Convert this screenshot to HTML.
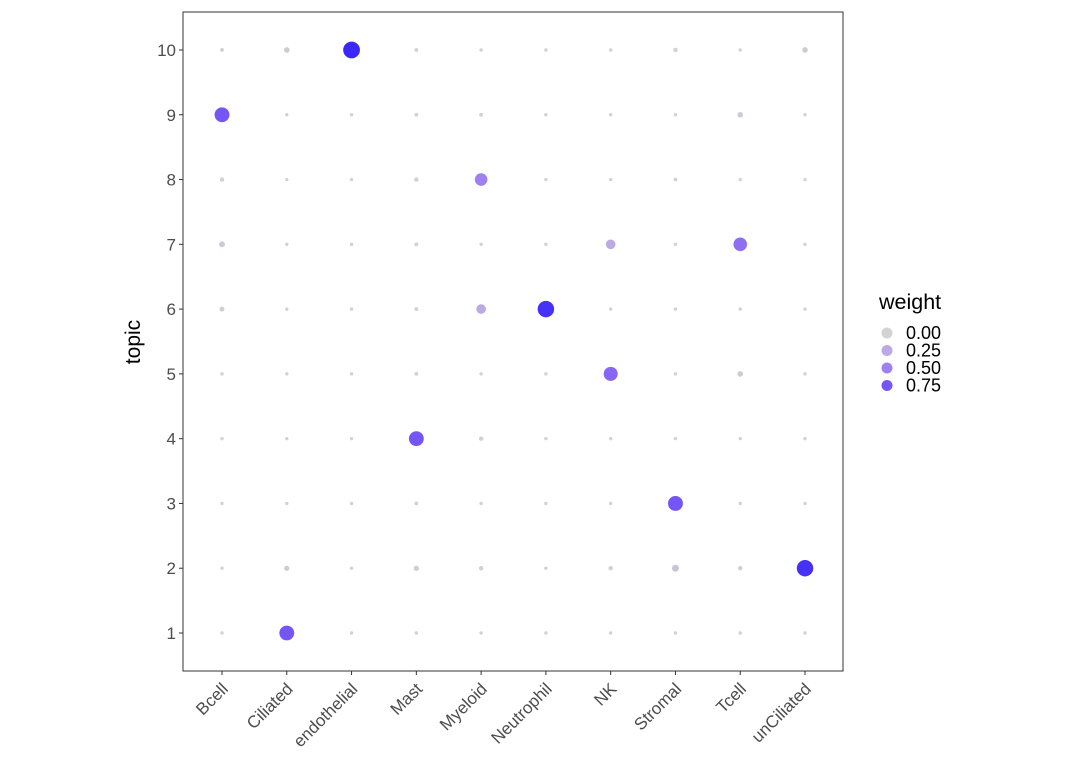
<!DOCTYPE html>
<html><head><meta charset="utf-8"><style>
body{margin:0;background:#fff;}
svg{font-family:"Liberation Sans",sans-serif;}
</style></head><body>
<svg id="chart" width="1080" height="771">
<rect x="183" y="12" width="660" height="659" fill="#fff" stroke="#333" stroke-width="1"/>
<g id="marks"></g>
<g id="xticks"></g>
<g id="yticks"></g>
<text x="140" y="342" font-size="21" text-anchor="middle" transform="rotate(-90 140 342)">topic</text>
<g>
<text x="879" y="309" font-size="21.5">weight</text>
<g id="legend"></g>
</g>
</svg>
<script>
const categories=["Bcell","Ciliated","endothelial","Mast","Myeloid","Neutrophil","NK","Stromal","Tcell","unCiliated"];
const topics=[1,2,3,4,5,6,7,8,9,10];
// weights per category, indexed by topic 1..10
const wBcell=[0.005,0.005,0.005,0.005,0.005,0.03,0.06,0.02,0.75,0.01];
const wCiliated=[0.75,0.04,0.005,0.005,0.005,0.005,0.005,0.005,0.005,0.05];
const wEndothelial=[0.005,0.005,0.005,0.005,0.005,0.005,0.005,0.005,0.005,1.0];
const wMast=[0.005,0.04,0.01,0.75,0.01,0.01,0.01,0.02,0.01,0.01];
const wMyeloid=[0.005,0.02,0.005,0.02,0.005,0.25,0.005,0.5,0.01,0.005];
const wNeutrophil=[0.005,0.005,0.005,0.005,0.005,0.95,0.005,0.005,0.005,0.005];
const wNK=[0.005,0.02,0.005,0.005,0.65,0.005,0.25,0.005,0.005,0.005];
const wStromal=[0.005,0.1,0.75,0.005,0.005,0.005,0.005,0.01,0.005,0.02];
const wTcell=[0.005,0.02,0.005,0.005,0.05,0.005,0.6,0.005,0.05,0.005];
const wUnCiliated=[0.005,0.95,0.005,0.005,0.005,0.005,0.005,0.005,0.005,0.05];
const weights=[wBcell,wCiliated,wEndothelial,wMast,wMyeloid,wNeutrophil,wNK,wStromal,wTcell,wUnCiliated];
const legendValues=[0,0.25,0.5,0.75];
const legendLabels=["0.00","0.25","0.50","0.75"];

const NS="http://www.w3.org/2000/svg";
const xPos=i=>222+i*64.78;
const yPos=t=>633-(t-1)*64.78;
const stops=[[0,[211,211,211]],[0.25,[187,170,228]],[0.5,[159,128,239]],[0.75,[118,85,245]],[1,[58,40,248]]];
function col(w){
  w=Math.max(0,Math.min(1,w));
  for(let i=0;i<stops.length-1;i++){
    const a=stops[i],b=stops[i+1];
    if(w<=b[0]){const f=(w-a[0])/(b[0]-a[0]);
      const c=a[1].map((v,k)=>Math.round(v+(b[1][k]-v)*f));return `rgb(${c})`;}
  }
  return `rgb(${stops[4][1]})`;
}
const rad=w=>1.2+7.2*Math.sqrt(Math.max(0,w));
const marks=document.getElementById('marks');
weights.forEach((arr,ci)=>{
  arr.forEach((w,ti)=>{
    const c=document.createElementNS(NS,'circle');
    c.setAttribute('cx',xPos(ci));c.setAttribute('cy',yPos(topics[ti]));
    c.setAttribute('r',rad(w));c.setAttribute('fill',col(w));
    
    
    marks.appendChild(c);
  });
});
const xt=document.getElementById('xticks');
categories.forEach((c,i)=>{
  const x=xPos(i);
  const l=document.createElementNS(NS,'line');
  l.setAttribute('x1',x);l.setAttribute('x2',x);l.setAttribute('y1',671);l.setAttribute('y2',675);l.setAttribute('stroke','#333');
  
  
  xt.appendChild(l);
  const t=document.createElementNS(NS,'text');
  const ax=x+7, ay=690;
  t.setAttribute('x',ax);t.setAttribute('y',ay);t.setAttribute('font-size','17');t.setAttribute('fill','#4d4d4d');
  t.setAttribute('text-anchor','end');t.setAttribute('transform',`rotate(-45 ${ax} ${ay})`);
  t.textContent=c;
  
  
  xt.appendChild(t);
});
const yt=document.getElementById('yticks');
topics.forEach(tp=>{
  const y=yPos(tp);
  const l=document.createElementNS(NS,'line');
  l.setAttribute('x1',179);l.setAttribute('x2',183);l.setAttribute('y1',y);l.setAttribute('y2',y);l.setAttribute('stroke','#333');
  
  
  yt.appendChild(l);
  const t=document.createElementNS(NS,'text');
  t.setAttribute('x',176);t.setAttribute('y',y+6);t.setAttribute('font-size','17');t.setAttribute('fill','#4d4d4d');
  t.setAttribute('text-anchor','end');t.textContent=tp;
  
  
  yt.appendChild(t);
});
const lg=document.getElementById('legend');
legendValues.forEach((v,i)=>{
  const y=333+i*17.5;
  const c=document.createElementNS(NS,'circle');
  c.setAttribute('cx',887);c.setAttribute('cy',y);c.setAttribute('r',5.5);c.setAttribute('fill',col(v));
  
  
  lg.appendChild(c);
  const t=document.createElementNS(NS,'text');
  t.setAttribute('x',906);t.setAttribute('y',y+6);t.setAttribute('font-size','18');
  t.textContent=legendLabels[i];
  
  
  lg.appendChild(t);
});
</script>
</body></html>
